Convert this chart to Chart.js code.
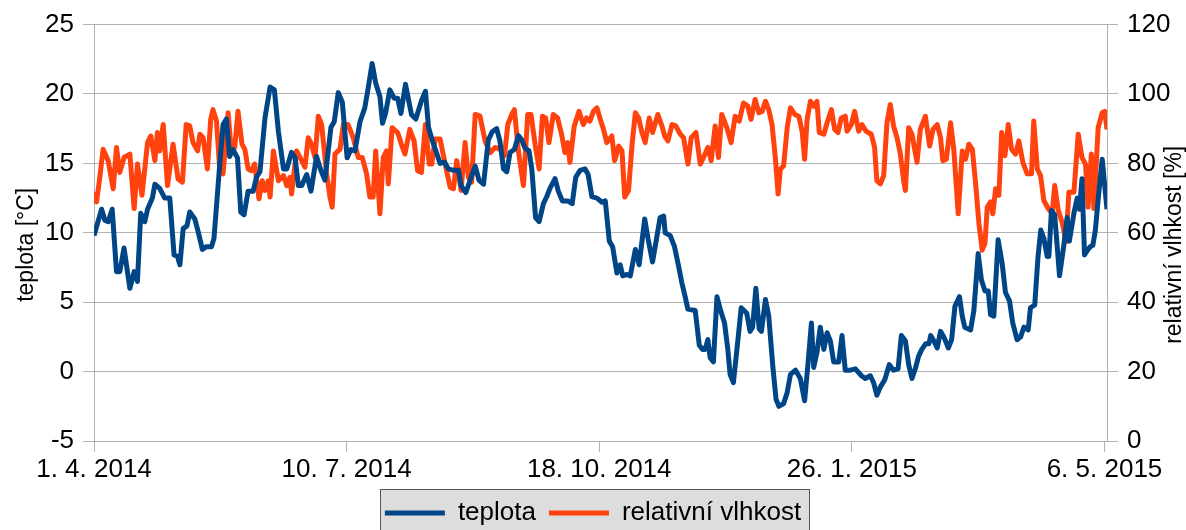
<!DOCTYPE html>
<html lang="cs">
<head>
<meta charset="utf-8">
<title>Teplota a relativní vlhkost</title>
<script src="https://cdn.jsdelivr.net/npm/chart.js@4.4.1/dist/chart.umd.min.js"></script>
<style>
  html, body { margin: 0; padding: 0; background: #fff; }
  #graf { display: block; }
</style>
</head>
<body>
<canvas id="graf" width="1186" height="530"></canvas>
<script>
// den od 1. 4. 2014 a průměrná denní teplota [°C]
const dnyTeplota = [
  0, 3, 4.3, 5.6, 7.2, 8.9, 10.2, 11.9, 14.2, 15.9, 17.2, 18.5, 20.1, 21.2, 23.1, 24.1, 26, 28, 30, 31.7,
  33, 34, 35.3, 36.8, 37.9, 39.9, 41.2, 42.9, 44.5, 46.5, 47.5, 49.8, 51.1, 52.4, 53.7, 55, 56.8, 58.1, 59.4, 61,
  63, 64.3, 65.7, 67.7, 69.7, 71.4, 73, 75, 76.3, 78.2, 79.6, 80.9, 82.2, 84.2, 85.9, 88.1, 89.8, 91.4, 93.8, 95.1,
  96.7, 98.3, 100.2, 101.7, 103.3, 105.3, 107.2, 108.6, 110.1, 111.5, 113.2, 114.2, 115.4, 117.1, 118.8, 120.2, 121.5, 123.3, 124.6, 125.7,
  127.4, 129.6, 131.2, 132.4, 134, 135.7, 137, 138.7, 140.3, 142.3, 144.3, 145.3, 147.2, 148.9, 150.9, 152.4, 154.2, 156.1, 157.7, 159.4,
  160.7, 162.1, 163.4, 164.7, 166.4, 168, 169.3, 170.6, 172.2, 173.3, 174.8, 176.2, 177.9, 179.2, 180.5, 182.5, 183.8, 185.4, 187.5, 189.3,
  190.7, 192.4, 194.4, 195.6, 197.1, 199.1, 201.1, 202.4, 204, 205.3, 207, 208.3, 209.3, 211, 212.3, 214.3, 215.8, 218, 219.3, 221.1,
  222.8, 224.1, 225.5, 226.1, 228.1, 229.8, 231.4, 232.7, 234, 235.1, 238, 239.6, 240.9, 241.9, 243, 243.9, 245.2, 246.6, 247.9, 249.6,
  250.9, 251.8, 253.1, 254.5, 256.2, 258.4, 259.7, 260.7, 262, 263.3, 264.2, 265.8, 267.1, 268.7, 270, 271.1, 273, 274.4, 275.7, 277.7,
  279.6, 281.3, 282.7, 284, 284.9, 286.2, 287.5, 288.9, 290.2, 291.5, 292.8, 294.8, 296.1, 297.4, 299.4, 301.4, 303.8, 305.3, 307.3, 308.6,
  309.9, 311.3, 313, 314.8, 316.5, 318.3, 319.6, 321.2, 322.5, 323.8, 325.1, 326.4, 327.7, 329.2, 330.5, 331.2, 332.5, 333.8, 335.1, 336.4,
  338.2, 339.5, 340.8, 342.6, 343.7, 344.7, 347, 348.3, 350, 351.3, 352.7, 354, 354.9, 356.2, 357.9, 359.5, 360.8, 362.4, 363.7, 365.4,
  366.8, 368.1, 369.8, 370.7, 372.4, 373.7, 374.8, 376, 377.3, 378, 379, 380.3, 382.2, 383.9, 385.2, 386.1, 387.9, 389.2, 390.1, 391.1,
  392.1, 393.5, 394.4, 395.4, 396.4, 397.7, 399.1, 401
];
const teplota = [
  9.8, 11.7, 10.9, 10.8, 11.7, 7.2, 7.2, 8.9, 6.0, 7.2, 6.5, 11.4, 10.8, 11.7, 12.5, 13.5, 13.2, 12.5, 12.5, 8.4,
  8.3, 7.7, 10.3, 10.5, 11.5, 11.0, 10.1, 8.8, 9.0, 9.0, 9.6, 15.0, 17.8, 18.2, 15.5, 16.0, 15.4, 11.5, 11.3, 13.0,
  13.0, 14.0, 14.4, 18.3, 20.5, 20.3, 17.3, 14.6, 14.6, 15.8, 15.4, 13.4, 13.4, 14.2, 13.0, 15.5, 14.5, 13.8, 17.6, 18.0,
  20.1, 19.4, 15.4, 16.0, 15.9, 18.0, 19.0, 20.5, 22.2, 20.8, 19.8, 17.9, 18.6, 20.3, 19.7, 19.7, 18.6, 20.7, 19.5, 18.5,
  18.2, 19.5, 20.2, 17.6, 16.6, 15.7, 15.0, 15.1, 14.6, 14.5, 14.5, 13.4, 12.9, 13.8, 14.8, 13.8, 13.5, 16.7, 17.3, 17.5,
  16.6, 14.6, 14.4, 15.8, 16.0, 17.0, 16.7, 16.1, 15.9, 14.6, 11.1, 10.8, 12.1, 12.6, 13.2, 13.9, 13.0, 12.3, 12.3, 12.1,
  14.0, 14.5, 14.6, 14.2, 12.6, 12.5, 12.2, 12.3, 9.4, 9.0, 7.1, 7.7, 6.9, 7.0, 6.9, 8.8, 7.7, 11.0, 9.6, 7.9,
  9.7, 11.1, 11.2, 10.0, 9.8, 9.0, 7.6, 6.4, 5.4, 4.5, 4.4, 1.9, 1.6, 1.6, 2.3, 1.0, 0.7, 5.4, 4.5, 3.5,
  1.6, -0.2, -0.8, 1.6, 4.6, 4.2, 2.9, 3.2, 6.0, 3.1, 2.9, 5.2, 4.0, 0.4, -2.0, -2.5, -2.3, -1.5, -0.2, 0.1,
  -0.5, -2.1, 0.7, 3.5, 0.3, 1.4, 3.2, 1.6, 2.8, 2.2, 0.7, 0.7, 2.6, 0.1, 0.1, 0.2, -0.3, -0.5, -0.3, -0.8,
  -1.7, -1.1, -0.6, 0.5, 0.1, 0.2, 2.6, 2.2, 0.5, -0.5, 0.2, 1.1, 1.6, 2.0, 2.0, 2.6, 2.2, 1.7, 2.9, 2.5,
  1.7, 2.3, 4.7, 5.4, 4.0, 3.2, 3.0, 4.4, 8.5, 6.6, 5.8, 5.8, 4.1, 4.0, 9.5, 7.8, 5.7, 5.1, 3.5, 2.3,
  2.5, 3.2, 3.0, 4.6, 4.8, 8.3, 10.2, 9.6, 8.3, 8.3, 11.6, 11.3, 6.9, 9.1, 11.1, 9.4, 11.4, 12.5, 11.7, 13.9,
  8.4, 8.8, 9.0, 9.1, 10.2, 12.8, 15.3, 11.7
];

// den od 1. 4. 2014 a relativní vlhkost [%]
const dnyVlhkost = [
  0, 1, 2.3, 3.6, 5.6, 7.6, 8.9, 10.2, 11.9, 14.2, 15.9, 17.2, 19, 21.2, 22.5, 24.1, 25.1, 26, 27.4, 29.1,
  31.3, 33.3, 35, 36.5, 37.9, 39.2, 41, 41.9, 43.2, 44.9, 46.2, 47.1, 48.5, 49.8, 51.1, 53.1, 54.1, 55.7, 57, 58.6,
  59.7, 61, 62.3, 63.6, 65.3, 66.6, 67.7, 69, 69.7, 71, 73, 75, 76.3, 77.6, 78.2, 80.2, 82.2, 83.5, 84.8, 86.1,
  87.5, 88.8, 90.1, 92.1, 93.4, 94.3, 95.4, 97.4, 98.7, 100.6, 102.6, 104.6, 106.2, 107.9, 109.2, 110.5, 111.5, 113.2, 114.5, 115.8,
  116.5, 118, 120.2, 121.7, 123.1, 125, 126.7, 128.1, 129.6, 131.2, 132.7, 133.7, 135, 137, 139, 141, 142.3, 143.6, 145.3, 146.9,
  148.2, 149.5, 150.9, 152.8, 154.8, 156.8, 158.8, 160.7, 162.5, 163.8, 165.4, 166.4, 168, 170, 171.7, 173, 174.6, 176.2, 177.5, 178.8,
  180.1, 181.8, 183.5, 185.1, 186.4, 187.5, 188.4, 190.1, 192, 193.7, 195, 196.3, 197.7, 199.1, 200.4, 201.7, 203, 205, 206.1, 207.7,
  209, 210.1, 211.6, 213, 214.3, 215.6, 216.9, 218.2, 219.8, 221.1, 223.2, 224.8, 225.9, 227.2, 228.8, 230.3, 232.1, 233.4, 235.1, 236.4,
  238.3, 240, 241.3, 243, 244.3, 245.9, 247.2, 248.5, 250.5, 252.2, 253.8, 255.4, 257.1, 258.8, 260.1, 261.7, 263.2, 264.5, 265.8, 267.1,
  268.4, 269.7, 270.8, 271.7, 273, 274.4, 275.7, 277.4, 279, 280.3, 281.3, 282.3, 283.6, 284.9, 286.2, 287.1, 288.9, 290.2, 291.9, 293.2,
  294.5, 295.8, 297.4, 298.1, 299.8, 301.1, 302.7, 304, 305.6, 307.7, 309, 309.9, 311.3, 312.6, 313.9, 315.2, 316.5, 317.9, 319.2, 320.5,
  321.2, 322.5, 323.8, 325.8, 327.1, 329.1, 330.8, 332.1, 333.8, 335.1, 336, 337.4, 339.1, 340.4, 342.1, 343.7, 345, 346.3, 347.7, 349,
  350.3, 351.6, 352.7, 353.6, 354.9, 355.8, 356.9, 358.2, 359.3, 360.6, 361.9, 363.2, 364.8, 366.1, 367.7, 369.4, 371.1, 372, 373.4, 374.7,
  376, 377.7, 379.3, 380.3, 381.7, 383.2, 384.8, 385.9, 387.9, 389.6, 391.1, 392.5, 393.5, 394.8, 395.8, 397.5, 399.1, 400.1, 401
];
const vlhkost = [
  71.7, 68.9, 76, 84.1, 80.8, 72.7, 84.6, 77.4, 81.7, 82.7, 67, 79.8, 70.8, 86, 87.9, 80.8, 88.9, 83.6, 91.2, 73.6,
  85.5, 75.5, 74.6, 91.2, 90.8, 86, 83.6, 88.4, 87.4, 78.4, 92.7, 95.5, 92.2, 77.9, 77, 94.6, 85.5, 84.6, 95, 85.5,
  84.1, 78.4, 77.9, 79.8, 69.8, 75, 72.2, 75, 70.3, 83.6, 75, 76.5, 73.6, 76, 71.2, 83.6, 80.8, 78.9, 87.4, 85.5,
  81.7, 93.6, 91.2, 77, 70.3, 67.4, 82.7, 84.1, 91.2, 91.2, 87.4, 81.7, 81.7, 77, 70.3, 70.3, 83.6, 65.5, 81.7, 83.6,
  74.1, 90.3, 88.9, 85.5, 82.7, 89.8, 86.5, 77.9, 77.4, 91.2, 79.8, 79.8, 87, 87, 79.8, 73.1, 72.7, 80.8, 72.2, 86,
  76, 74.6, 94.1, 93.6, 86.5, 83.1, 84.6, 84.1, 82.2, 91.2, 94.1, 95.5, 83.6, 73.6, 94.1, 94.1, 85.5, 78.4, 93.6, 93.1,
  86, 94.1, 93.1, 88.4, 83.1, 86, 80.3, 90.8, 95, 91.2, 93.1, 92.2, 95, 96, 92.7, 89.8, 86, 87.9, 80.8, 85,
  83.6, 70.3, 72.2, 85.5, 94.6, 93.1, 88.9, 86, 93.1, 88.9, 94.1, 90.8, 87.9, 86.5, 91.2, 90.8, 88.4, 87.4, 79.8, 87.4,
  88.9, 79.8, 81.7, 84.6, 80.8, 90.8, 81.7, 94.1, 90.3, 86, 93.6, 92.2, 97.4, 96.5, 92.7, 98.4, 94.6, 95, 97.9, 95.5,
  91.2, 81.7, 71.2, 78.4, 79.3, 90.3, 96, 94.1, 93.6, 89.3, 81.2, 92.7, 97.9, 96.5, 97.9, 88.9, 88.4, 91.7, 95.5, 89.8,
  88.9, 93.1, 93.6, 89.3, 91.2, 95, 89.3, 91.2, 89.3, 88.4, 84.6, 75, 74.1, 76.5, 91.7, 97, 90.8, 87.4, 82.7, 75,
  72.2, 90.3, 88.4, 80.3, 89.8, 93.6, 85, 89.8, 91.2, 87.4, 80.8, 81.2, 91.7, 83.6, 65.5, 83.6, 81.2, 85.5, 84.1, 74.1,
  62.7, 55, 57, 67.4, 68.9, 65.5, 72.7, 70.8, 88.9, 82.2, 91.2, 84.1, 82.7, 86.5, 80.3, 77, 77, 92.2, 78.4, 76.5,
  69.3, 67, 65.5, 73.6, 66.5, 63.1, 57.4, 71.7, 71.7, 88.4, 81.7, 79.8, 67.4, 82.7, 67, 90.3, 94.6, 95, 89.8
];

// popisky osy X (den od začátku měření → datum)
const dnyPopisky = [0, 100, 200, 300, 400];
const popiskyOsyX = ["1. 4. 2014", "10. 7. 2014", "18. 10. 2014", "26. 1. 2015", "6. 5. 2015"];

const nazvySerii = ["teplota", "relativní vlhkost"];
const nazvyOs = ["teplota [°C]", "relativní vlhkost [%]"];

Chart.defaults.font.family = '"Liberation Sans", Arial, sans-serif';
Chart.defaults.color = "#000";

const mrizka = "#b3b3b3";

// šedý rámeček pod legendou a svislé popisky os
const doplnky = {
  id: "doplnky",
  beforeDraw(chart) {
    const ctx = chart.ctx;
    ctx.save();
    ctx.fillStyle = "#fff";
    ctx.fillRect(0, 0, chart.width, chart.height);
    const boxy = chart.legend && chart.legend.legendHitBoxes;
    if (boxy && boxy.length) {
      const prvni = boxy[0];
      const posledni = boxy[boxy.length - 1];
      const x1 = Math.round(prvni.left - 5);
      const x2 = Math.round(posledni.left + posledni.width + 8);
      const y1 = Math.round(chart.legend.top + 2);
      ctx.fillStyle = "#dddddd";
      ctx.fillRect(x1, y1, x2 - x1, chart.height - y1 + 5);
      ctx.strokeStyle = "#555555";
      ctx.lineWidth = 1;
      ctx.strokeRect(x1 + 0.5, y1 + 0.5, x2 - x1, chart.height);
    }
    ctx.restore();
  },
  afterDraw(chart) {
    const ctx = chart.ctx;
    const a = chart.chartArea;
    const stred = (a.top + a.bottom) / 2 + 12;
    ctx.save();
    ctx.font = '23px "Liberation Sans", Arial, sans-serif';
    ctx.fillStyle = "#000";
    ctx.textAlign = "center";
    ctx.textBaseline = "middle";
    ctx.translate(a.left - 67, stred);
    ctx.rotate(-Math.PI / 2);
    ctx.fillText(nazvyOs[0], 0, 0);
    ctx.restore();
    ctx.save();
    ctx.font = '23px "Liberation Sans", Arial, sans-serif';
    ctx.fillStyle = "#000";
    ctx.textAlign = "center";
    ctx.textBaseline = "middle";
    ctx.translate(a.right + 68, stred);
    ctx.rotate(-Math.PI / 2);
    ctx.fillText(nazvyOs[1], 0, 0);
    ctx.restore();
  }
};

new Chart(document.getElementById("graf"), {
  type: "line",
  data: {
    datasets: [
      {
        label: nazvySerii[0],
        data: dnyTeplota.map((d, i) => ({ x: d, y: teplota[i] })),
        yAxisID: "y",
        borderColor: "#004586",
        backgroundColor: "#004586",
        borderWidth: 5,
        borderJoinStyle: "round",
        pointRadius: 0,
        tension: 0
      },
      {
        label: nazvySerii[1],
        data: dnyVlhkost.map((d, i) => ({ x: d, y: vlhkost[i] })),
        yAxisID: "y1",
        borderColor: "#ff420e",
        backgroundColor: "#ff420e",
        borderWidth: 5,
        borderJoinStyle: "round",
        pointRadius: 0,
        tension: 0
      }
    ]
  },
  options: {
    responsive: false,
    animation: false,
    layout: { padding: { top: 21, bottom: -6, left: 0, right: 0 } },
    plugins: {
      tooltip: { enabled: false },
      legend: {
        position: "bottom",
        labels: {
          usePointStyle: true,
          pointStyle: "line",
          pointStyleWidth: 60,
          padding: 13,
          font: { size: 26 },
          color: "#000"
        }
      }
    },
    scales: {
      x: {
        type: "linear",
        min: 0,
        max: 401,
        afterBuildTicks: s => { s.ticks = dnyPopisky.map(v => ({ value: v })); },
        afterFit: s => { s.height = 46; },
        ticks: {
          callback: v => popiskyOsyX[dnyPopisky.indexOf(v)] ?? "",
          font: { size: 26 },
          padding: 2,
          maxRotation: 0,
          autoSkip: false
        },
        grid: { drawOnChartArea: false, tickLength: 11, color: mrizka },
        border: { color: mrizka }
      },
      y: {
        position: "left",
        min: -5,
        max: 25,
        afterFit: s => { s.width = 94; },
        ticks: { stepSize: 5, padding: 9, font: { size: 26 } },
        grid: { color: mrizka, tickLength: 11 },
        border: { color: mrizka }
      },
      y1: {
        position: "right",
        min: 0,
        max: 120,
        afterFit: s => { s.width = 79; },
        ticks: { stepSize: 20, padding: 9, font: { size: 26 } },
        grid: { drawOnChartArea: false, color: mrizka, tickLength: 11 },
        border: { color: mrizka }
      }
    }
  },
  plugins: [doplnky]
});
</script>
</body>
</html>
